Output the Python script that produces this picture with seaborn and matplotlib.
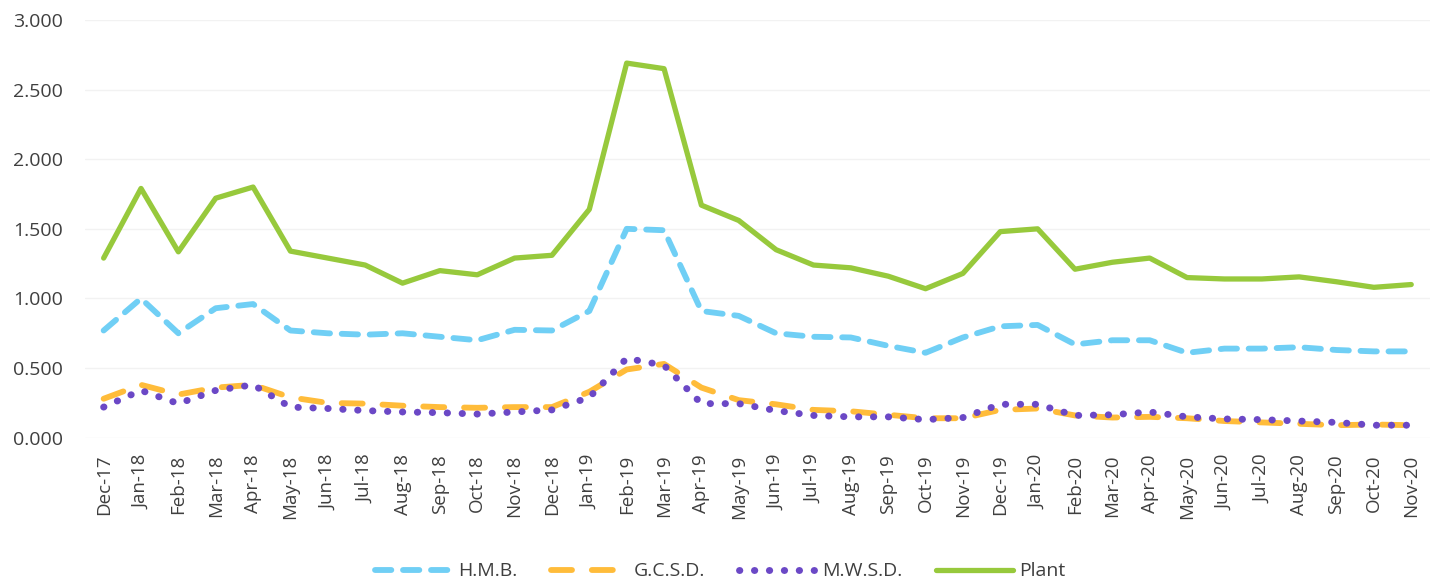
import numpy as np
import pandas as pd
import seaborn as sns
import matplotlib.pyplot as plt

# month labels (Dec-17 .. Nov-20)
months = ['Dec-17', 'Jan-18', 'Feb-18', 'Mar-18', 'Apr-18', 'May-18', 'Jun-18', 'Jul-18',
          'Aug-18', 'Sep-18', 'Oct-18', 'Nov-18', 'Dec-18', 'Jan-19', 'Feb-19', 'Mar-19',
          'Apr-19', 'May-19', 'Jun-19', 'Jul-19', 'Aug-19', 'Sep-19', 'Oct-19', 'Nov-19',
          'Dec-19', 'Jan-20', 'Feb-20', 'Mar-20', 'Apr-20', 'May-20', 'Jun-20', 'Jul-20',
          'Aug-20', 'Sep-20', 'Oct-20', 'Nov-20']

hmb = [0.77, 1.00, 0.75, 0.93, 0.96, 0.77, 0.75, 0.74, 0.75, 0.725, 0.70, 0.775,
       0.77, 0.91, 1.50, 1.49, 0.91, 0.875, 0.75, 0.725, 0.72, 0.66, 0.61, 0.72,
       0.80, 0.81, 0.67, 0.70, 0.70, 0.61, 0.64, 0.64, 0.65, 0.63, 0.62, 0.62]

gcsd = [0.28, 0.38, 0.31, 0.36, 0.38, 0.29, 0.25, 0.245, 0.23, 0.22, 0.215, 0.22,
        0.22, 0.33, 0.49, 0.53, 0.36, 0.27, 0.24, 0.20, 0.19, 0.165, 0.14, 0.14,
        0.20, 0.21, 0.16, 0.145, 0.15, 0.14, 0.12, 0.11, 0.10, 0.09, 0.095, 0.09]

mwsd = [0.22, 0.34, 0.245, 0.34, 0.38, 0.22, 0.21, 0.195, 0.185, 0.18, 0.17, 0.185,
        0.20, 0.29, 0.57, 0.52, 0.245, 0.245, 0.195, 0.16, 0.15, 0.15, 0.13, 0.145,
        0.24, 0.24, 0.16, 0.165, 0.185, 0.15, 0.135, 0.13, 0.12, 0.11, 0.09, 0.09]

plant = [1.29, 1.79, 1.335, 1.72, 1.80, 1.34, 1.29, 1.24, 1.11, 1.20, 1.17, 1.29,
         1.31, 1.64, 2.69, 2.65, 1.67, 1.56, 1.35, 1.24, 1.22, 1.16, 1.07, 1.18,
         1.48, 1.50, 1.21, 1.26, 1.29, 1.15, 1.14, 1.14, 1.155, 1.12, 1.08, 1.10]

series_names = ['H.M.B.', 'G.C.S.D.', 'M.W.S.D.', 'Plant']

sns.set_theme(style="white")
plt.rcParams['font.family'] = ['Open Sans', 'DejaVu Sans']

df = pd.DataFrame({'idx': range(len(months)), 'H.M.B.': hmb, 'G.C.S.D.': gcsd,
                   'M.W.S.D.': mwsd, 'Plant': plant})
long = df.melt(id_vars='idx', var_name='series', value_name='value')

fig = plt.figure(figsize=(14.4, 5.86), dpi=100)
ax = fig.add_axes([0.059, 0.253, 0.934, 0.713])

styles = {
    'H.M.B.': dict(color='#70CFF5', linestyle=(0, (2.8, 2.0)), lw=4.2),
    'G.C.S.D.': dict(color='#FFBC3A', linestyle=(0, (3.6, 3.4)), lw=4.2),
    'M.W.S.D.': dict(color='#6B48C6', linestyle=(0, (0.05, 2.1)), lw=5),
    'Plant': dict(color='#97C93C', linestyle='-', lw=3.8),
}

for name in series_names:
    sub = long[long['series'] == name]
    st = styles[name]
    sns.lineplot(data=sub, x='idx', y='value', ax=ax, color=st['color'],
                 linewidth=st['lw'], label=name)
    line = ax.lines[-1]
    line.set_linestyle(st['linestyle'])
    line.set_dash_capstyle('round')

ax.set_xlim(-0.5, len(months) - 0.5)
ax.set_ylim(0, 3)
ax.set_yticks(np.arange(0, 3.01, 0.5))
ax.set_yticklabels([f"{v:.3f}" for v in np.arange(0, 3.01, 0.5)], fontsize=14, color='#3F3F3F')
ax.set_xticks(range(len(months)))
ax.set_xticklabels(months, rotation=90, fontsize=13.5, color='#3F3F3F')
ax.set_xlabel('')
ax.set_ylabel('')
ax.tick_params(axis='y', length=0, pad=16)
ax.tick_params(axis='x', length=0, pad=12)
ax.grid(axis='y', color='#F2F2F2', linewidth=1)
for s in ax.spines.values():
    s.set_visible(False)

handles, labels = ax.get_legend_handles_labels()
ax.get_legend().remove()
leg = fig.legend(handles, labels, loc='center', bbox_to_anchor=(0.5, 0.025), ncol=4,
                 frameon=False, fontsize=14, handlelength=4, columnspacing=1.7,
                 handletextpad=0.3)
for t in leg.get_texts():
    t.set_color('#3F3F3F')

fig.savefig('out.png', dpi=100)
